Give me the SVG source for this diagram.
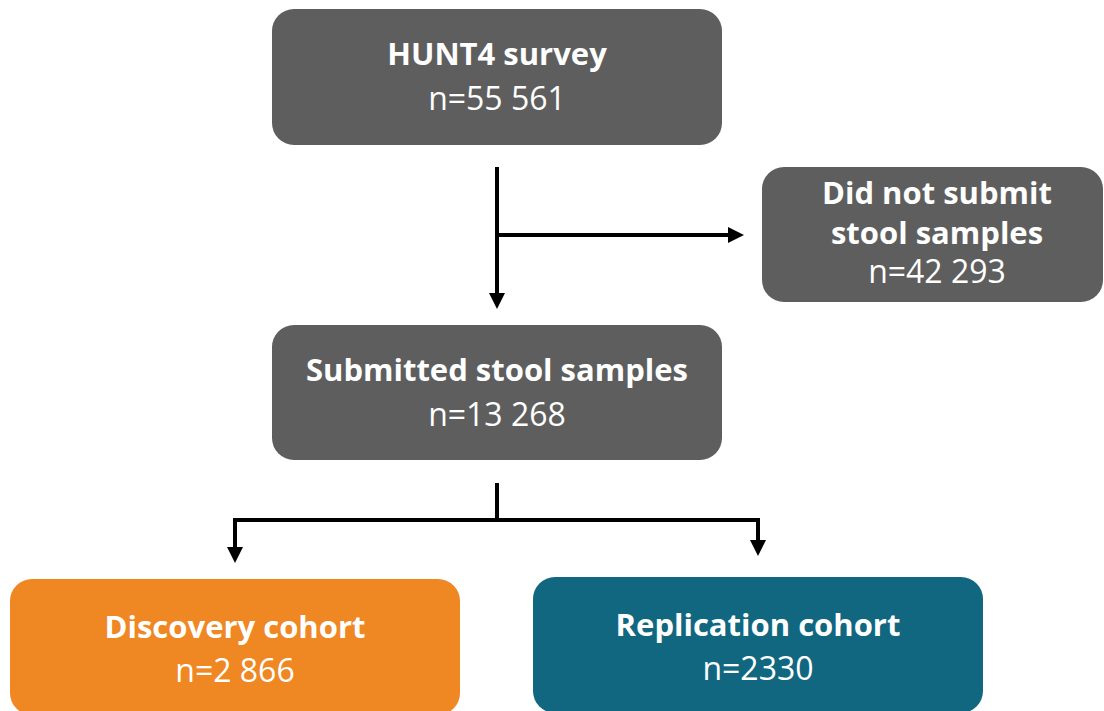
<svg xmlns="http://www.w3.org/2000/svg" width="1104" height="711" viewBox="0 0 1104 711">
  <style>
    .box-gray { fill: #5e5e5e; }
    .box-orange { fill: #ef8723; }
    .box-teal { fill: #11677f; }
    .title { font-family: "Open Sans", "Noto Sans", sans-serif; font-weight: bold; font-size: 31px; fill: #ffffff; text-anchor: middle; }
    .count { font-family: "Open Sans", "Noto Sans", sans-serif; font-size: 32px; fill: #ffffff; text-anchor: middle; }
    .link { fill: none; stroke: #000000; stroke-width: 4; stroke-linejoin: miter; }
  </style>
  <defs>
    <marker id="arrow" markerUnits="userSpaceOnUse" markerWidth="16" markerHeight="16" refX="8" refY="8" orient="auto">
      <path d="M0,0 L16,8 L0,16 z" fill="#000000"/>
    </marker>
  </defs>

  <rect width="1104" height="711" fill="#ffffff"/>

  <!-- connectors -->
  <g id="connectors">
    <path class="link" d="M497,167 V301" marker-end="url(#arrow)"/>
    <path class="link" d="M495,235 H736" marker-end="url(#arrow)"/>
    <path class="link" d="M497,483 V520"/>
    <path class="link" d="M499,520 H235 V555" marker-end="url(#arrow)"/>
    <path class="link" d="M495,520 H758 V548" marker-end="url(#arrow)"/>
  </g>

  <!-- nodes -->
  <g id="hunt4">
    <rect class="box-gray" x="272" y="9" width="450" height="136" rx="22"/>
    <text class="title" x="497" y="65">HUNT4 survey</text>
    <text class="count" x="497" y="110">n=55 561</text>
  </g>

  <g id="not-submitted">
    <rect class="box-gray" x="762" y="167" width="341" height="135" rx="22"/>
    <text class="title" x="937" y="204">Did not submit</text>
    <text class="title" x="937" y="244">stool samples</text>
    <text class="count" x="937" y="283">n=42 293</text>
  </g>

  <g id="submitted">
    <rect class="box-gray" x="272" y="325" width="450" height="135" rx="22"/>
    <text class="title" x="497" y="381">Submitted stool samples</text>
    <text class="count" x="497" y="426">n=13 268</text>
  </g>

  <g id="discovery">
    <rect class="box-orange" x="10" y="579" width="450" height="136" rx="22"/>
    <text class="title" x="235" y="638">Discovery cohort</text>
    <text class="count" x="235" y="682">n=2 866</text>
  </g>

  <g id="replication">
    <rect class="box-teal" x="533" y="577" width="450" height="136" rx="22"/>
    <text class="title" x="758" y="636">Replication cohort</text>
    <text class="count" x="758" y="680">n=2330</text>
  </g>
</svg>
